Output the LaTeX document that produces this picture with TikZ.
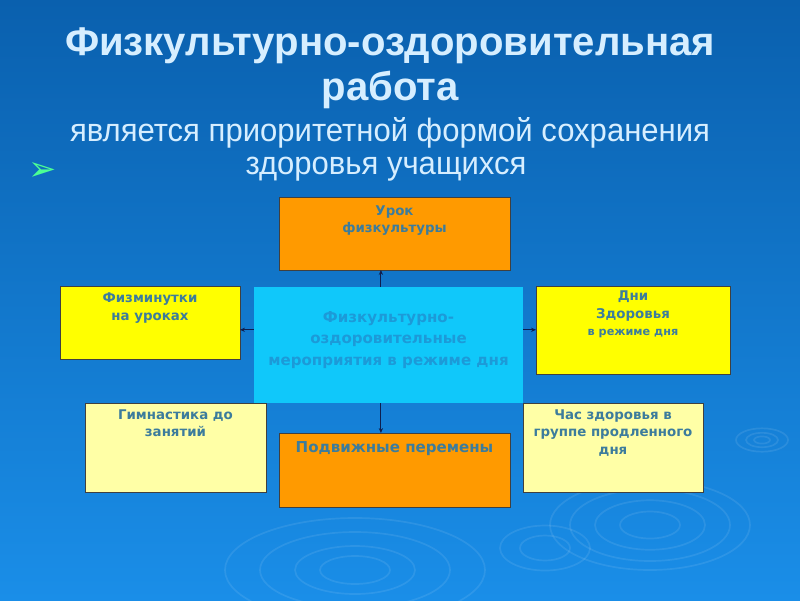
\documentclass[tikz,border=0pt]{standalone}
\usepackage{fontspec}
\setmainfont{Liberation Sans}
\newfontfamily\boxfont{DejaVu Sans}
\usetikzlibrary{positioning,arrows.meta}
\definecolor{BgTop}{HTML}{0A60AE}
\definecolor{BgBot}{HTML}{1A8EE8}
\definecolor{TitleClr}{HTML}{D6EEFF}
\definecolor{OrangeClr}{HTML}{FF9A00}
\definecolor{YellowClr}{HTML}{FFFF00}
\definecolor{PaleClr}{HTML}{FFFFA6}
\definecolor{CyanClr}{HTML}{10C8FA}
\definecolor{BoxTxtClr}{HTML}{3C7C9C}
\definecolor{MidTxtClr}{HTML}{1C9AD8}
\definecolor{ArrClr}{HTML}{0E1E4E}

\begin{document}
\begin{tikzpicture}[x=0.025cm,y=-0.025cm,
  box/.style={draw=black!75,line width=0.6pt,inner sep=0pt,outer sep=0pt},
  txt/.style={font=\boxfont\bfseries\fontsize{9.5}{12.5}\selectfont,text=BoxTxtClr,align=center,inner sep=0pt},
  conn/.style={draw=ArrClr,line width=0.6pt,-{Stealth[length=3.5pt,width=3pt]}},
  ripple/.style={draw=white,opacity=0.09,line width=1.2pt}]

% background
\useasboundingbox (0,0) rectangle (800,600);
\clip (0,0) rectangle (800,600);
\fill[top color=BgTop,bottom color=BgBot] (0,0) rectangle (800,600);
\foreach \r in {8,16,26} \draw[ripple] (762,440) ellipse ({\r} and {\r*0.45});
\foreach \r in {30,55,80,100} \draw[ripple] (650,525) ellipse ({\r} and {\r*0.45});
\foreach \r in {25,45} \draw[ripple] (545,548) ellipse ({\r} and {\r*0.5});
\foreach \r in {35,60,95,130} \draw[ripple] (355,570) ellipse ({\r} and {\r*0.4});

% title
\node[font=\bfseries\fontsize{28.5}{30}\selectfont,text=TitleClr] (t1) at (390,46) {Физкультурно-оздоровительная};
\node[font=\bfseries\fontsize{28.5}{30}\selectfont,text=TitleClr] (t2) at (390,90) {работа};
\node[font=\fontsize{23}{24}\selectfont,text=TitleClr,xscale=0.96,transform shape] (t3) at (390,133) {является приоритетной формой сохранения};
\node[font=\fontsize{23}{24}\selectfont,text=TitleClr,xscale=0.96,transform shape] (t4) at (386,169) {здоровья учащихся};
\node[font=\boxfont\fontsize{24}{24}\selectfont,text=green!60!cyan!70] (bul) at (43,171) {➢};

% boxes
\node[box,fill=OrangeClr,minimum width=5.775cm,minimum height=1.825cm] (urok) at (394.5,233.5) {};
\node[box,fill=CyanClr,draw=none,minimum width=6.725cm,minimum height=2.9cm] (mero) at (388.5,345) {};
\node[box,fill=YellowClr,minimum width=4.5cm,minimum height=1.825cm] (fizmin) at (150,322.5) {};
\node[box,fill=YellowClr,minimum width=4.85cm,minimum height=2.2cm] (dni) at (633,330) {};
\node[box,fill=PaleClr,minimum width=4.525cm,minimum height=2.225cm] (gimn) at (175.5,447.5) {};
\node[box,fill=PaleClr,minimum width=4.5cm,minimum height=2.225cm] (chas) at (613,447.5) {};
\node[box,fill=OrangeClr,minimum width=5.775cm,minimum height=1.85cm] (podv) at (394.5,470) {};

% texts
\node[txt,anchor=north,below=0.2cm of urok.north] (urokT) {Урок\\физкультуры};
\node[txt,anchor=north,below=0.6cm of mero.north,font=\boxfont\bfseries\fontsize{10.7}{15.2}\selectfont,text=MidTxtClr] (meroT)
  {Физкультурно-\\оздоровительные\\мероприятия в режиме дня};
\node[txt,anchor=north,below=0.17cm of fizmin.north] (fizminT) {Физминутки\\на уроках};
\node[txt,anchor=north,below=0.12cm of dni.north] (dniT)
  {Дни\\Здоровья\\{\fontsize{8}{12}\selectfont в режиме дня}};
\node[txt,anchor=north,below=0.15cm of gimn.north] (gimnT) {Гимнастика до\\занятий};
\node[txt,anchor=north,below=0.15cm of chas.north] (chasT) {Час здоровья в\\группе продленного\\дня};
\node[txt,anchor=north,below=0.2cm of podv.north,font=\boxfont\bfseries\fontsize{10.7}{13}\selectfont] (podvT) {Подвижные перемены};

% connectors
\draw[conn] ([xshift=-0.19cm]mero.north) -- ([xshift=-0.19cm]mero.north |- urok.south);
\draw[conn] ([xshift=-0.19cm]mero.south) -- ([xshift=-0.19cm]mero.south |- podv.north);
\draw[conn] ([yshift=0.38cm]mero.west) -- ([yshift=0.38cm]mero.west -| fizmin.east);
\draw[conn] ([yshift=0.38cm]mero.east) -- ([yshift=0.38cm]mero.east -| dni.west);

\end{tikzpicture}
\end{document}
